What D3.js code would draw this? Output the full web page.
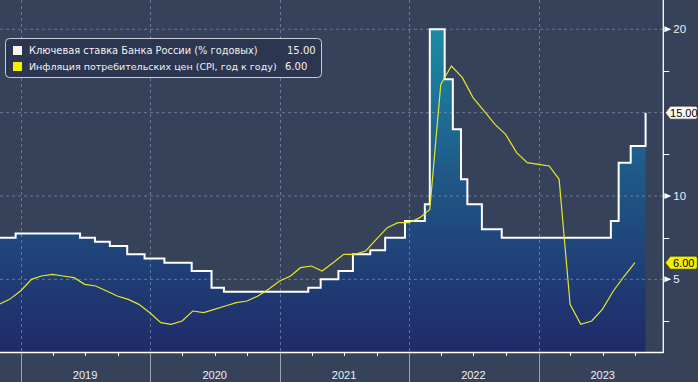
<!DOCTYPE html>
<html>
<head>
<meta charset="utf-8">
<script src="https://cdn.jsdelivr.net/npm/d3@7"></script>
<style>
  html, body { margin: 0; padding: 0; background: #35425a; }
  svg { display: block; }
</style>
</head>
<body>
<svg id="chart" width="698" height="382"></svg>
<script>
// ---------------- DATA ----------------
const rateDates = ["2018-11-03","2018-12-17","2019-06-17","2019-07-29","2019-09-09","2019-10-28","2019-12-16",
  "2020-02-10","2020-04-27","2020-06-22","2020-07-27","2021-03-22","2021-04-26","2021-06-15","2021-07-26",
  "2021-09-13","2021-10-25","2021-12-20","2022-02-14","2022-02-28","2022-04-11","2022-05-04","2022-05-27",
  "2022-06-14","2022-07-25","2022-09-19","2023-07-24","2023-08-15","2023-09-18","2023-10-30"];
const rateValues = [7.5,7.75,7.5,7.25,7.0,6.5,6.25,6.0,5.5,4.5,4.25,4.5,5.0,5.5,6.5,6.75,7.5,8.5,9.5,20,17,14,11,9.5,8,7.5,8.5,12,13,15];

const cpiMonths = ["2018-10","2018-11","2018-12",
  "2019-01","2019-02","2019-03","2019-04","2019-05","2019-06","2019-07","2019-08","2019-09","2019-10","2019-11","2019-12",
  "2020-01","2020-02","2020-03","2020-04","2020-05","2020-06","2020-07","2020-08","2020-09","2020-10","2020-11","2020-12",
  "2021-01","2021-02","2021-03","2021-04","2021-05","2021-06","2021-07","2021-08","2021-09","2021-10","2021-11","2021-12",
  "2022-01","2022-02","2022-03","2022-04","2022-05","2022-06","2022-07","2022-08","2022-09","2022-10","2022-11","2022-12",
  "2023-01","2023-02","2023-03","2023-04","2023-05","2023-06","2023-07","2023-08","2023-09"];
const cpiValues = [3.5,3.8,4.3,
  5.0,5.2,5.3,5.2,5.1,4.7,4.6,4.3,4.0,3.8,3.5,3.0,
  2.4,2.3,2.5,3.1,3.0,3.2,3.4,3.6,3.7,4.0,4.4,4.9,
  5.2,5.7,5.8,5.5,6.0,6.5,6.5,6.7,7.4,8.1,8.4,8.4,
  8.7,9.2,16.7,17.8,17.1,15.9,15.1,14.3,13.7,12.6,12.0,11.9,
  11.8,11.0,3.5,2.3,2.5,3.2,4.3,5.2,6.0];

const yearLabels = ["2019","2020","2021","2022","2023"];
const yTickValues = [5, 10, 20];
const yMinorTicks = [2.5, 7.5, 12.5, 17.5];
const gridValues = [5, 10, 15, 20];
const legendNames = ["Ключевая ставка Банка России (% годовых)", "Инфляция потребительских цен (CPI, год к году)"];
const legendValues = ["15.00", "6.00"];
const lastRate = 15.00, lastCpi = 6.00;

// ---------------- SETUP ----------------
const parseDay = d3.timeParse("%Y-%m-%d");
const parseMonth = d3.timeParse("%Y-%m");
const rate = rateDates.map((d, i) => ({ date: parseDay(d), v: rateValues[i] }));
const cpi = cpiMonths.map((m, i) => ({ date: d3.timeDay.offset(d3.timeMonth.offset(parseMonth(m), 1), -1), v: cpiValues[i] }));

const plotRight = 663.3, plotBottom = 352;
const x = d3.scaleTime()
  .domain([parseDay("2018-11-03"), parseDay("2023-12-19")])
  .range([0, plotRight]);
const y = d3.scaleLinear().domain([20, 10]).range([29.3, 196]);

const svg = d3.select("#chart");
const W = 698, H = 382;
svg.append("rect").attr("width", W).attr("height", H).attr("fill", "#35425a");

const defs = svg.append("defs");
const grad = defs.append("linearGradient").attr("id", "fillGrad")
  .attr("gradientUnits", "userSpaceOnUse").attr("x1", 0).attr("x2", 0).attr("y1", y(20)).attr("y2", plotBottom);
grad.append("stop").attr("offset", 0).attr("stop-color", "#1a8ca9");
grad.append("stop").attr("offset", 0.45).attr("stop-color", "#1f5887");
grad.append("stop").attr("offset", 1).attr("stop-color", "#202a68");

// area under key rate
const area = d3.area().curve(d3.curveStepAfter)
  .x(d => x(d.date)).y0(plotBottom).y1(d => y(d.v));
svg.append("path").datum(rate).attr("d", area).attr("fill", "url(#fillGrad)");

// grid
const gridColor = "rgba(150,165,195,0.55)";
svg.append("g").selectAll("line").data(gridValues).join("line")
  .attr("x1", 0).attr("x2", plotRight).attr("y1", d => y(d)).attr("y2", d => y(d))
  .attr("stroke", gridColor).attr("stroke-width", 1).attr("stroke-dasharray", "3,3");
const yearStarts = yearLabels.map(s => parseDay(s + "-01-01"));
svg.append("g").selectAll("line").data(yearStarts).join("line")
  .attr("x1", d => Math.round(x(d)) + 0.5).attr("x2", d => Math.round(x(d)) + 0.5).attr("y1", 0).attr("y2", plotBottom)
  .attr("stroke", gridColor).attr("stroke-width", 1).attr("stroke-dasharray", "3,3");

// lines
const rateLine = d3.line().curve(d3.curveStepAfter).x(d => x(d.date)).y(d => y(d.v));
svg.append("path").datum(rate).attr("d", rateLine).attr("fill", "none")
  .attr("stroke", "#ffffff").attr("stroke-width", 2);
const cpiLine = d3.line().x(d => x(d.date)).y(d => y(d.v));
svg.append("path").datum(cpi).attr("d", cpiLine).attr("fill", "none")
  .attr("stroke", "#e6e629").attr("stroke-width", 1.2);

// axes
svg.append("line").attr("x1", 0).attr("x2", plotRight).attr("y1", plotBottom + 0.5).attr("y2", plotBottom + 0.5)
  .attr("stroke", "#ffffff").attr("stroke-width", 1.3);
svg.append("line").attr("x1", plotRight).attr("x2", plotRight).attr("y1", 0).attr("y2", plotBottom + 1)
  .attr("stroke", "#ffffff").attr("stroke-width", 1.3);

// bottom axis: quarterly ticks
const quarterTicks = d3.timeMonth.every(3).range(x.domain()[0], x.domain()[1])
  .filter(d => d.getMonth() !== 0);
svg.append("g").selectAll("line").data(quarterTicks).join("line")
  .attr("x1", d => Math.round(x(d)) + 0.5).attr("x2", d => Math.round(x(d)) + 0.5)
  .attr("y1", plotBottom).attr("y2", plotBottom + 4)
  .attr("stroke", "#ffffff").attr("stroke-width", 1);
svg.append("g").selectAll("line").data(yearStarts).join("line")
  .attr("x1", d => Math.round(x(d)) + 0.5).attr("x2", d => Math.round(x(d)) + 0.5)
  .attr("y1", plotBottom + 1).attr("y2", H)
  .attr("stroke", "#9aa2b4").attr("stroke-width", 1);
svg.append("g").selectAll("text").data(yearLabels).join("text")
  .attr("x", d => x(parseDay(d + "-07-01")))
  .attr("y", 379)
  .attr("text-anchor", "middle")
  .attr("font-family", "'Liberation Sans', Arial, sans-serif").attr("font-size", 11)
  .attr("fill", "#eef0f4").text(d => d);

// right axis
svg.append("g").selectAll("line").data(yMinorTicks).join("line")
  .attr("x1", plotRight).attr("x2", plotRight + 6).attr("y1", d => Math.round(y(d)) + 0.5).attr("y2", d => Math.round(y(d)) + 0.5)
  .attr("stroke", "#ffffff").attr("stroke-width", 1);
const yt = svg.append("g").selectAll("g").data(yTickValues).join("g")
  .attr("transform", d => `translate(${plotRight},${y(d)})`);
yt.append("path").attr("d", "M1,-3 L8,0 L1,3 Z").attr("fill", "#ffffff");
yt.append("text").attr("x", 10).attr("dy", "0.36em")
  .attr("font-family", "'Liberation Sans', Arial, sans-serif").attr("font-size", 11.5)
  .attr("fill", "#eef0f4").text(d => d);

// value tags
function tag(val, label, fill) {
  const g = svg.append("g").attr("transform", `translate(${plotRight + 2},${y(val)})`);
  g.append("path").attr("d", "M0,0 L5,-6.5 L30,-6.5 Q32,-6.5 32,-4.5 L32,4.5 Q32,6.5 30,6.5 L5,6.5 Z")
    .attr("fill", fill).attr("stroke", "#222").attr("stroke-width", 0.6);
  g.append("text").attr("x", 18.5).attr("dy", "0.36em").attr("text-anchor", "middle")
    .attr("font-family", "'Liberation Sans', Arial, sans-serif").attr("font-size", 11)
    .attr("fill", "#000").text(label);
}
tag(lastRate, legendValues[0], "#fff8f2");
tag(lastCpi, legendValues[1], "#f5f000");

// legend
const lg = svg.append("g");
lg.append("rect").attr("x", 5.5).attr("y", 38.5).attr("width", 316).attr("height", 39).attr("rx", 4)
  .attr("fill", "#2c3650").attr("stroke", "#c8ccd6").attr("stroke-width", 1);
const swatch = ["#fff3ee", "#f5f000"];
const rowsY = [50.5, 66.5];
const textW = [229, 248];
const valX = [287, 285];
legendNames.forEach((n, i) => {
  lg.append("rect").attr("x", 13).attr("y", rowsY[i] - 4.5).attr("width", 9).attr("height", 9).attr("fill", swatch[i]);
  const t = lg.append("text").attr("x", 29).attr("y", rowsY[i]).attr("dy", "0.36em")
    .attr("font-family", "'DejaVu Sans', Verdana, sans-serif").attr("font-size", 10)
    .attr("fill", "#f2f2f2").text(n);
  const w = t.node().getComputedTextLength();
  if (w > 0) t.attr("font-size", (10 * textW[i] / w).toFixed(2));
  lg.append("text").attr("x", valX[i]).attr("y", rowsY[i]).attr("dy", "0.36em")
    .attr("font-family", "'DejaVu Sans', Verdana, sans-serif").attr("font-size", 10)
    .attr("fill", "#f2f2f2").text(legendValues[i]);
});
</script>
</body>
</html>
